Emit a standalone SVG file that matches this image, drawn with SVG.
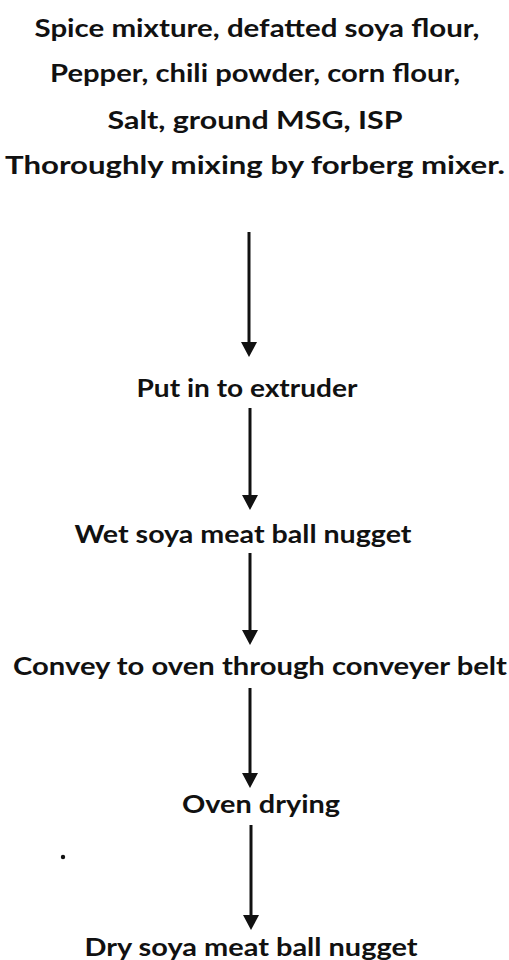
<svg xmlns="http://www.w3.org/2000/svg" width="509" height="960" viewBox="0 0 509 960">
  <style>
    .lbl { font-family: "Lato", "Open Sans", "Liberation Sans", sans-serif; font-weight: 700; font-size: 24px; fill: #111; text-anchor: middle; }
    .flow { stroke: #111; stroke-width: 3; fill: none; marker-end: url(#head); }
  </style>
  <defs>
    <marker id="head" markerUnits="userSpaceOnUse" markerWidth="16" markerHeight="16" viewBox="0 0 16 16" refX="7" refY="8" orient="auto">
      <path d="M0,0 L15,8 L0,16 Z" fill="#111"/>
    </marker>
  </defs>
  <rect width="509" height="960" fill="#fff"/>

  <g id="ingredients">
    <text class="lbl" x="257" y="37" textLength="445" lengthAdjust="spacingAndGlyphs">Spice mixture, defatted soya flour,</text>
    <text class="lbl" x="255" y="82" textLength="410" lengthAdjust="spacingAndGlyphs">Pepper, chili powder, corn flour,</text>
    <text class="lbl" x="255" y="129" textLength="295" lengthAdjust="spacingAndGlyphs">Salt, ground MSG, ISP</text>
    <text class="lbl" x="255" y="174" textLength="500" lengthAdjust="spacingAndGlyphs">Thoroughly mixing by forberg mixer.</text>
  </g>
  <g id="extruder">
    <text class="lbl" x="247" y="397" textLength="221" lengthAdjust="spacingAndGlyphs">Put in to extruder</text>
  </g>
  <g id="wet-nugget">
    <text class="lbl" x="243" y="543" textLength="337" lengthAdjust="spacingAndGlyphs">Wet soya meat ball nugget</text>
  </g>
  <g id="convey">
    <text class="lbl" x="260" y="675" textLength="494" lengthAdjust="spacingAndGlyphs">Convey to oven through conveyer belt</text>
  </g>
  <g id="oven">
    <text class="lbl" x="261" y="813" textLength="158" lengthAdjust="spacingAndGlyphs">Oven drying</text>
  </g>
  <g id="dry-nugget">
    <text class="lbl" x="251" y="956" textLength="333" lengthAdjust="spacingAndGlyphs">Dry soya meat ball nugget</text>
  </g>

  <g id="connectors">
    <line class="flow" x1="249" y1="232" x2="249" y2="349"/>
    <line class="flow" x1="250" y1="408" x2="250" y2="502"/>
    <line class="flow" x1="250" y1="553" x2="250" y2="637"/>
    <line class="flow" x1="250" y1="688" x2="250" y2="780"/>
    <line class="flow" x1="251" y1="825" x2="251" y2="922"/>
  </g>

  <circle cx="63" cy="857" r="2.2" fill="#111"/>
</svg>
